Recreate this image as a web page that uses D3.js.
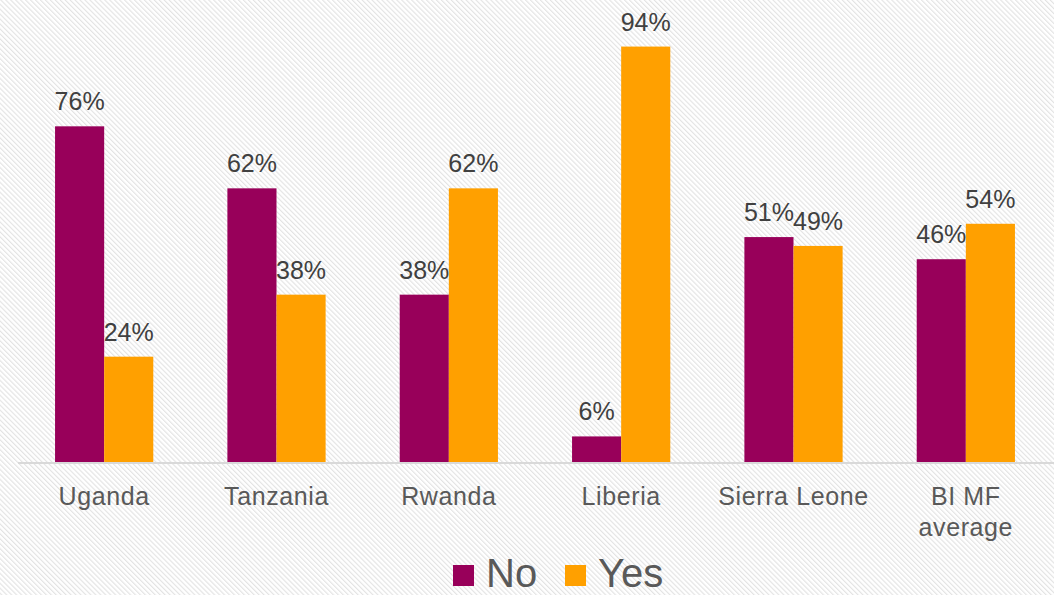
<!DOCTYPE html>
<html lang="en">
<head>
    <meta charset="UTF-8">
    <title>No / Yes by country</title>
    <script src="https://cdn.jsdelivr.net/npm/d3@7"></script>
    <style>
        html, body { margin: 0; padding: 0; background: #fff; }
        svg { display: block; font-family: "Liberation Sans", Arial, sans-serif; }
    </style>
</head>
<body>
    <svg width="1054" height="595" id="chart"></svg>
    <script>
        // values
        const categories = ["Uganda", "Tanzania", "Rwanda", "Liberia", "Sierra Leone", "BI MF\naverage"];
        const seriesNames = ["No", "Yes"];
        const noValues = [0.76, 0.62, 0.38, 0.06, 0.51, 0.46];
        const yesValues = [0.24, 0.38, 0.62, 0.94, 0.49, 0.54];
        const colours = ["#98005a", "#ffa000"];

        const svg = d3.select('#chart');
        const width = 1054;

        // diagonal hatching on the background
        const defs = svg.append('defs');
        const pat = defs.append('pattern')
            .attr('id', 'hatch')
            .attr('patternUnits', 'userSpaceOnUse')
            .attr('width', 3.5)
            .attr('height', 3.5)
            .attr('patternTransform', 'rotate(-45)');
        pat.append('line')
            .attr('x1', 0.6).attr('y1', 0)
            .attr('x2', 0.6).attr('y2', 3.5)
            .attr('stroke', '#e2e2e2')
            .attr('stroke-width', 1.1);

        svg.append('rect')
            .attr('width', width).attr('height', 595)
            .attr('fill', '#fff');
        svg.append('rect')
            .attr('width', width).attr('height', 595)
            .attr('fill', 'url(#hatch)');

        const rows = categories.map(function(c, i) {
            return { cat: c, values: [noValues[i], yesValues[i]] };
        });

        const x0 = d3.scaleBand()
            .domain(categories)
            .range([18, 1052])
            .paddingInner(0.43)
            .paddingOuter(0.215);

        const x1 = d3.scaleBand()
            .domain(seriesNames)
            .range([0, x0.bandwidth()]);

        const y = d3.scaleLinear()
            .domain([0, 1])
            .range([463, 20]);

        const groups = svg.selectAll('g.cat')
            .data(rows)
            .enter()
            .append('g')
            .attr('class', 'cat')
            .attr('transform', function(d) { return 'translate(' + x0(d.cat) + ',0)'; });

        groups.selectAll('rect')
            .data(function(d) { return d.values.map(function(v, j) { return { s: seriesNames[j], v: v }; }); })
            .enter()
            .append('rect')
            .attr('x', function(d) { return x1(d.s); })
            .attr('width', x1.bandwidth())
            .attr('y', function(d) { return y(d.v); })
            .attr('height', function(d) { return y(0) - y(d.v); })
            .attr('fill', function(d, j) { return colours[j]; });

        groups.selectAll('text.val')
            .data(function(d) { return d.values.map(function(v, j) { return { s: seriesNames[j], v: v }; }); })
            .enter()
            .append('text')
            .attr('class', 'val')
            .attr('x', function(d) { return x1(d.s) + x1.bandwidth() / 2; })
            .attr('y', function(d) { return y(d.v) - 16; })
            .attr('text-anchor', 'middle')
            .attr('font-size', 25)
            .attr('fill', '#404040')
            .text(function(d) { return d3.format('.0%')(d.v); });

        // category axis
        const xAxis = svg.append('g')
            .attr('transform', 'translate(0,463)')
            .call(d3.axisBottom(x0).tickSize(0).tickPadding(0));
        xAxis.select('.domain').remove();
        xAxis.append('line')
            .attr('x1', 18).attr('x2', width)
            .attr('y1', 0).attr('y2', 0)
            .attr('stroke', '#d9d9d9')
            .attr('stroke-width', 2);
        xAxis.selectAll('.tick text').each(function(d) {
            const t = d3.select(this);
            const lines = d.split('\n');
            t.text(null)
                .attr('y', 0)
                .attr('dy', null)
                .attr('font-size', 25)
                .attr('letter-spacing', 0.6)
                .attr('fill', '#595959')
                .attr('font-family', '"Liberation Sans", Arial, sans-serif');
            lines.forEach(function(line, k) {
                t.append('tspan')
                    .attr('x', 0)
                    .attr('y', 42 + k * 31)
                    .text(line);
            });
        });

        // legend
        const legend = svg.append('g');
        const legendX = [453, 565];
        seriesNames.forEach(function(name, j) {
            legend.append('rect')
                .attr('x', legendX[j]).attr('y', 565)
                .attr('width', 21).attr('height', 21)
                .attr('fill', colours[j]);
            legend.append('text')
                .attr('x', legendX[j] + 33).attr('y', 587)
                .attr('font-size', 40)
                .attr('fill', '#595959')
                .text(name);
        });
    </script>
</body>
</html>
